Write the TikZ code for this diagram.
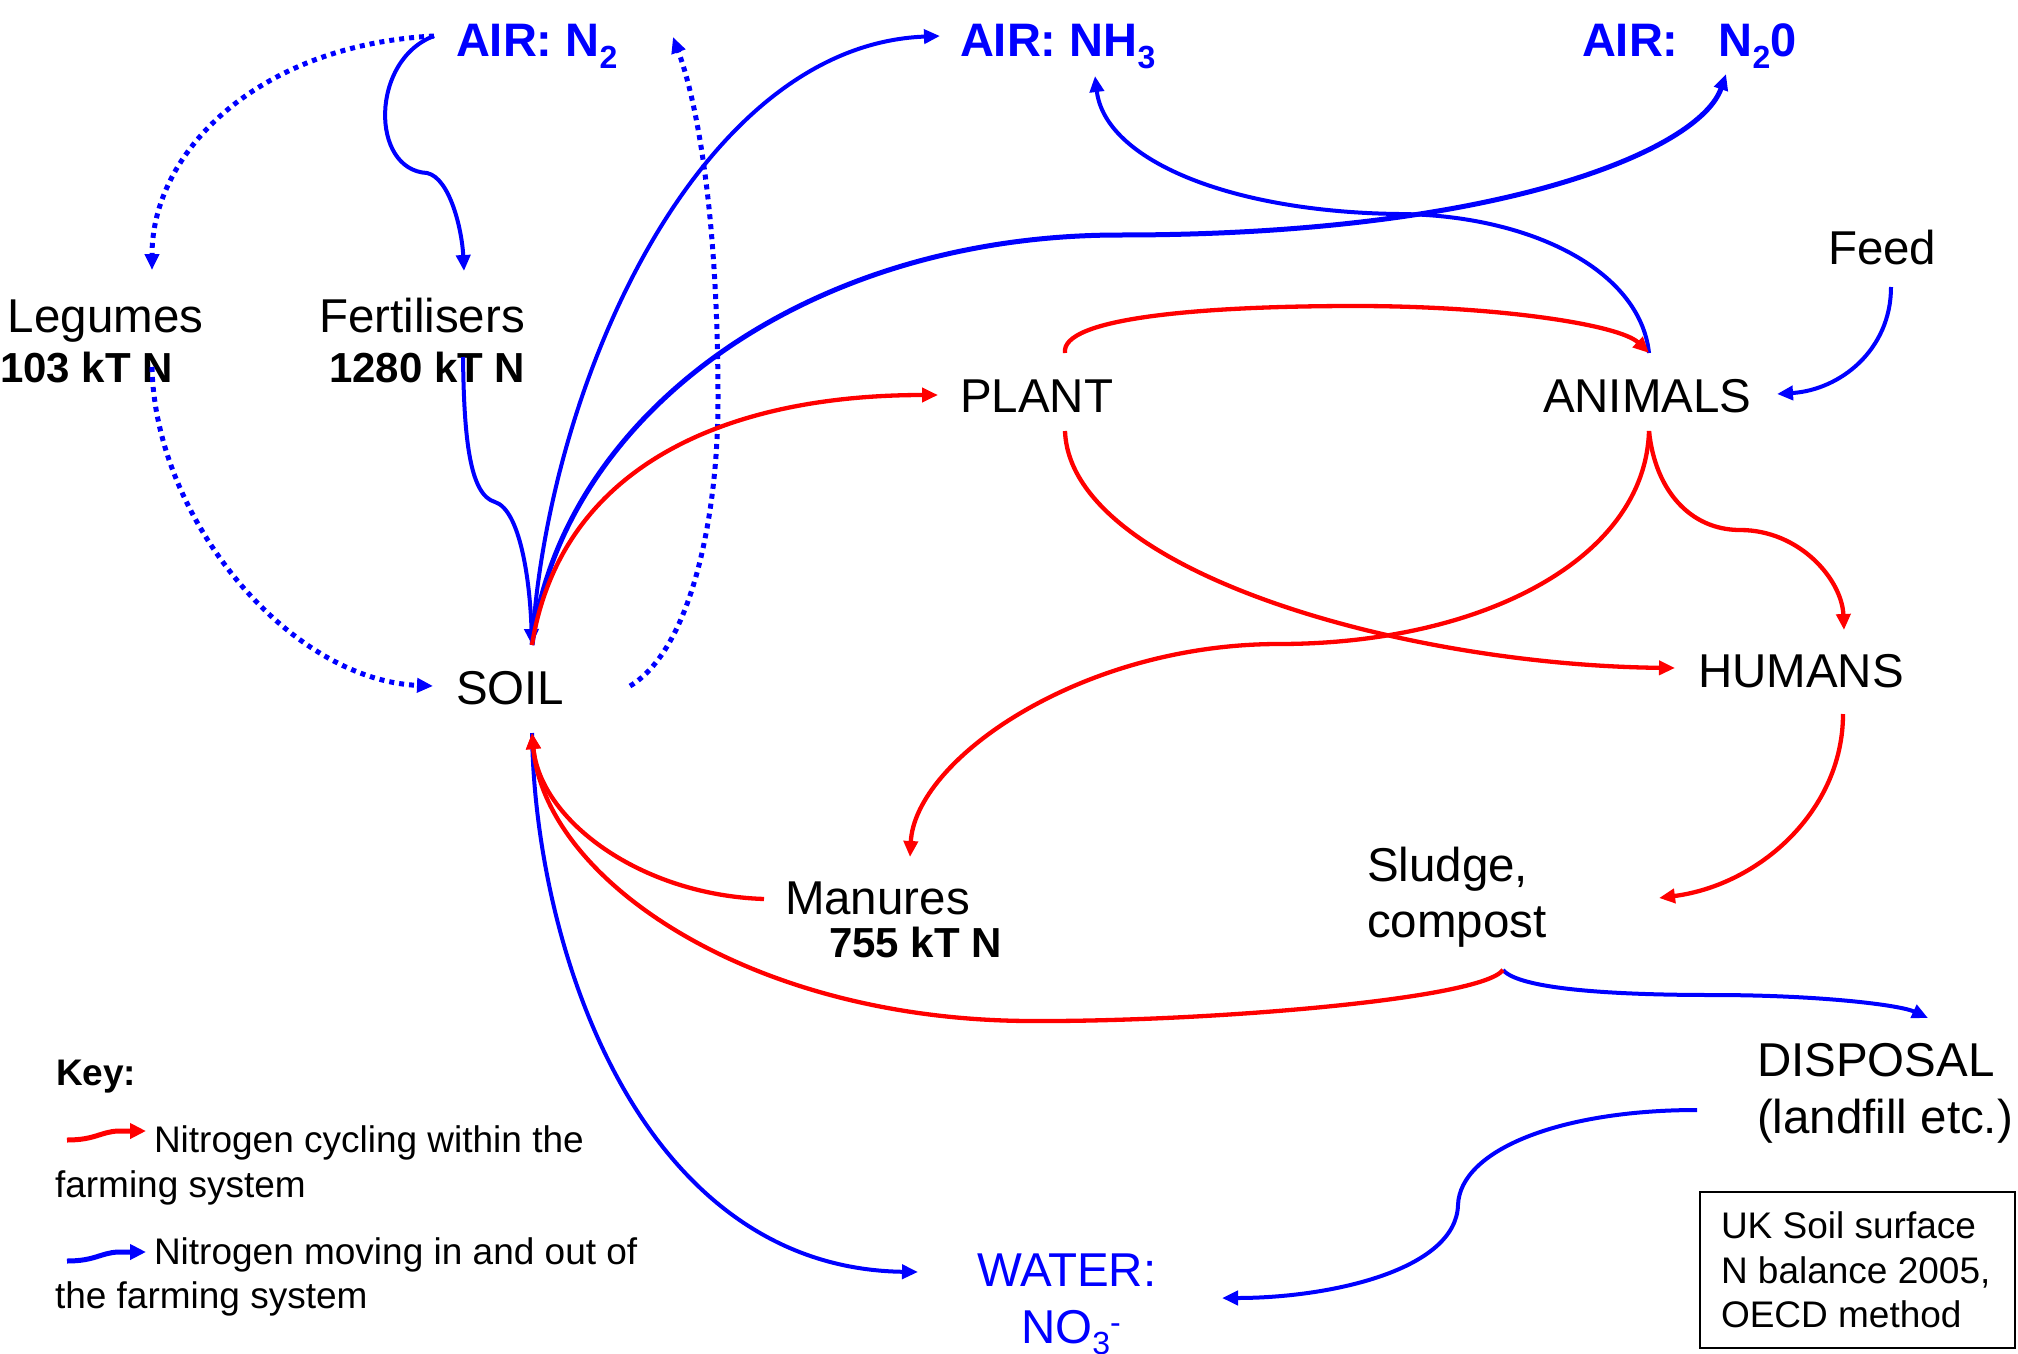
\documentclass[tikz,border=0pt]{standalone}
\usepackage{fontspec}
\setmainfont{Liberation Sans}
\usetikzlibrary{arrows.meta}
\definecolor{nblue}{RGB}{0,0,255}
\definecolor{nred}{RGB}{255,0,0}
\newcommand{\sbs}[1]{\raisebox{-0.24em}{\fontsize{32}{32}\selectfont #1}}
\newcommand{\sps}[1]{\raisebox{0.2em}{\fontsize{32}{32}\selectfont #1}}
\tikzset{
  lbl/.style={anchor=base west, inner sep=0pt, outer sep=0pt, font=\fontsize{47.5}{50}\selectfont},
  ttl/.style={lbl, text=nblue, font=\fontsize{47}{50}\selectfont\bfseries},
  val/.style={lbl, font=\fontsize{42}{45}\selectfont\bfseries},
  keytxt/.style={lbl, font=\fontsize{37}{40}\selectfont},
  tip/.style={-{Triangle[length=16pt,width=14pt]}},
  bflow/.style={draw=nblue, line width=4pt, tip},
  rflow/.style={draw=nred, line width=4.3pt, tip},
  dflow/.style={draw=nblue, line width=5pt, dash pattern=on 5pt off 5pt, tip},
  keyarrow/.style={line width=5pt, -{Triangle[length=16pt,width=15pt]}},
}
\begin{document}
\begin{tikzpicture}[x=1pt,y=-1pt]
\fill[white] (0,0) rectangle (2018,1354);
\useasboundingbox (0,0) rectangle (2018,1354);

% ---- labels ----
\node[ttl] (airn2) at (456,57) {AIR: N\sbs{2}};
\node[ttl] (airnh3) at (960,57) {AIR: NH\sbs{3}};
\node[ttl] (airn2o) at (1582,57) {AIR:\hspace{40pt}N\sbs{2}0};
\node[lbl] (leg) at (8,332) {Legumes};
\node[val] (legv) at (0,382) {103 kT N};
\node[lbl] (fert) at (319,332) {Fertilisers};
\node[val] (fertv) at (329,382) {1280 kT N};
\node[lbl] (feed) at (1828,264) {Feed};
\node[lbl] (plant) at (960,412) {PLANT};
\node[lbl] (anim) at (1543,412) {ANIMALS};
\node[lbl] (soil) at (456,704) {SOIL};
\node[lbl] (hum) at (1698,687) {HUMANS};
\node[lbl] (man) at (785,914) {Manures};
\node[val] (manv) at (829,957) {755 kT N};
\node[lbl] (sludge) at (1367,881) {Sludge,};
\node[lbl] (comp) at (1367,937) {compost};
\node[lbl] (disp) at (1757,1076) {DISPOSAL};
\node[lbl] (land) at (1757,1133) {(landfill etc.)};
\node[lbl, text=nblue] (water) at (977,1286) {WATER:};
\node[lbl, text=nblue] (no3) at (1021,1343) {NO\sbs{3}\sps{-}};

% key
\node[lbl, font=\fontsize{37}{40}\selectfont\bfseries] (key) at (56,1085) {Key:};
\node[keytxt] (k1) at (154,1152) {Nitrogen cycling within the};
\node[keytxt] (k1b) at (55,1197) {farming system};
\node[keytxt] (k2) at (154,1264) {Nitrogen moving in and out of};
\node[keytxt] (k2b) at (55,1308) {the farming system};

% info box
\draw[line width=2pt] (1700,1192) rectangle (2015,1348);
\node[keytxt] (b1) at (1721,1238) {UK Soil surface};
\node[keytxt] (b2) at (1721,1283) {N balance 2005,};
\node[keytxt] (b3) at (1721,1327) {OECD method};

% ---- connector end points ----
\coordinate (n2L) at (434,36);
\coordinate (legT) at (152,270);
\coordinate (fertT) at (464,271);
\coordinate (legB) at (152,367);
\coordinate (soilW) at (433,686);
\coordinate (soilE) at (630,686);
\coordinate (n2R) at (673,37);
\coordinate (soilT) at (532,645);
\coordinate (fertB) at (463,357);
\coordinate (nh3W) at (940,36);
\coordinate (nh3S) at (1095,76);
\coordinate (n2oS) at (1726,74);
\coordinate (plantW) at (938,395);
\coordinate (plantT) at (1065,353);
\coordinate (plantB) at (1065,431);
\coordinate (animT) at (1649,353);
\coordinate (animB) at (1649,431);
\coordinate (animE) at (1777,394);
\coordinate (feedS) at (1891,287);
\coordinate (humW) at (1675,668);
\coordinate (humN) at (1844,630);
\coordinate (humS) at (1843,714);
\coordinate (sludgeE) at (1659,898);
\coordinate (manN) at (910,857);
\coordinate (manW) at (764,899);
\coordinate (soilS) at (532,733);
\coordinate (compS) at (1503,970);
\coordinate (dispN) at (1928,1018);
\coordinate (dispW) at (1697,1110);
\coordinate (waterE) at (1222,1298);
\coordinate (waterW) at (918,1272);

% ---- dotted (fixation) ----
\draw[dflow] (n2L) .. controls (260,45) and (152,150) .. (legT);
\draw[dflow] (legB) .. controls (155,520) and (290,680) .. (soilW);
\draw[dflow] (soilE) .. controls (690,650) and (718,520) .. (718,400) .. controls (718,230) and (700,110) .. (n2R);

% ---- blue flows ----
\draw[bflow] (n2L) .. controls (370,60) and (370,170) .. (427,173) .. controls (450,178) and (462,230) .. (fertT);
\draw[bflow] (fertB) .. controls (464,440) and (470,495) .. (495,502) .. controls (520,510) and (530,580) .. (soilT);
\draw[bflow] (soilT) .. controls (548,380) and (700,45) .. (nh3W);
\draw[bflow, line width=5pt] (soilT) .. controls (560,420) and (800,235) .. (1120,235) .. controls (1500,235) and (1700,150) .. (n2oS);
\draw[bflow] (animT) .. controls (1640,270) and (1530,215) .. (1399,214) .. controls (1230,212) and (1105,160) .. (nh3S);
\draw[bflow] (feedS) .. controls (1891,350) and (1840,390) .. (animE);
\draw[bflow] (compS) .. controls (1520,990) and (1620,995) .. (1712,995) .. controls (1820,995) and (1900,1005) .. (dispN);
\draw[bflow] (dispW) .. controls (1560,1110) and (1460,1150) .. (1458,1205) .. controls (1456,1270) and (1330,1298) .. (waterE);
\draw[bflow] (soilS) .. controls (535,950) and (640,1268) .. (waterW);

% ---- red flows ----
\draw[rflow] (soilT) .. controls (560,470) and (720,395) .. (plantW);
\draw[rflow] (plantT) .. controls (1060,318) and (1200,306) .. (1356,306) .. controls (1500,306) and (1620,325) .. (animT);
\draw[rflow] (animB) .. controls (1645,560) and (1480,644) .. (1279,644) .. controls (1080,644) and (915,760) .. (manN);
\draw[rflow] (plantB) .. controls (1070,570) and (1400,665) .. (humW);
\draw[rflow] (animB) .. controls (1655,490) and (1690,530) .. (1740,530) .. controls (1800,530) and (1842,580) .. (humN);
\draw[rflow] (humS) .. controls (1843,810) and (1760,885) .. (sludgeE);
\draw[rflow] (manW) .. controls (640,895) and (540,820) .. (soilS);
\draw[rflow] (compS) .. controls (1480,1000) and (1200,1022) .. (1030,1021) .. controls (750,1020) and (545,880) .. (soilS);

% ---- key arrows ----
\coordinate (kr1) at (67,1140);
\coordinate (kr2) at (146,1131);
\coordinate (kb1) at (67,1261);
\coordinate (kb2) at (146,1252);
\draw[keyarrow, draw=nred] (kr1) .. controls (95,1140) and (100,1132) .. (118,1131) -- (kr2);
\draw[keyarrow, draw=nblue] (kb1) .. controls (95,1261) and (100,1253) .. (118,1252) -- (kb2);
\end{tikzpicture}
\end{document}
